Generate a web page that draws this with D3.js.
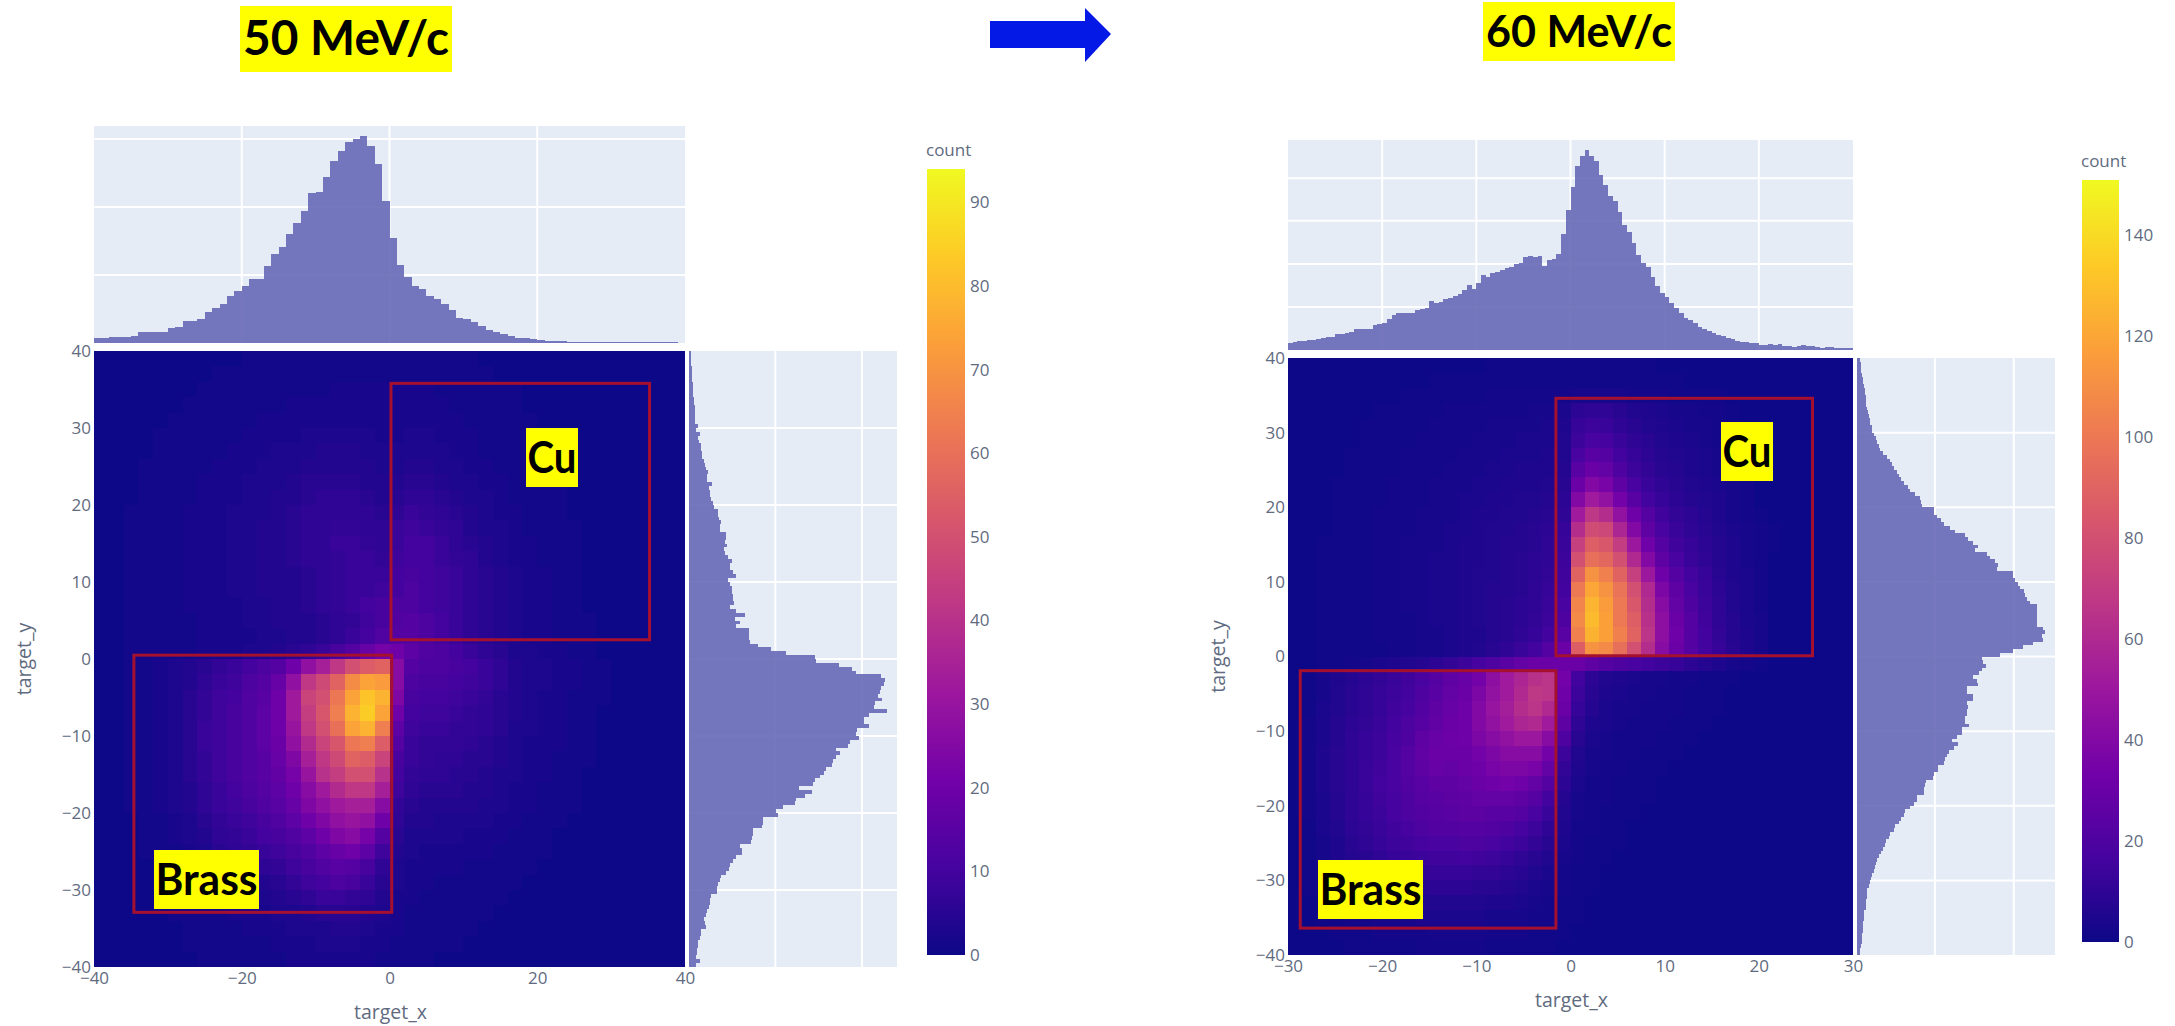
<!DOCTYPE html>
<html>
<head>
<meta charset="utf-8">
<script src="https://cdn.jsdelivr.net/npm/d3@7"></script>
<style>
  body { margin: 0; background: #fff; }
  text { font-family: "Open Sans", sans-serif; fill: #5f6b80; }
  .note { font-family: Lato, sans-serif; font-weight: 700; fill: #000; }
  .axis text { font-size: 17px; }
  .axis .domain { display: none; }
  .axis line { display: none; }
</style>
</head>
<body>
<div id="chart"></div>
<script>
// marginal histograms, 50 MeV/c (x: 1 unit bins from -40, y: 0.5 unit bins from +40 going down)
var histX50 = [34,34,44,44,44,54,81,81,81,81,108,120,164,164,174,230,257,287,343,382,419,473,473,566,652,708,801,884,973,1103,1112,1223,1338,1411,1477,1497,1519,1446,1318,1046,774,576,485,419,397,343,326,287,240,184,174,157,123,93,81,69,54,34,34,29,25,17,17,17,10,7,5,5,5,5,5,5,5,5,5,5,5,5,5,0];
var histY50 = [5,5,6,7,8,9,10,10,11,11,12,12,15,16,17,18,17,17,19,27,22,34,27,30,35,37,38,40,46,47,50,57,54,55,69,60,62,64,66,72,76,88,88,90,96,94,94,111,111,109,114,104,108,118,129,122,124,132,142,117,124,130,130,132,133,134,124,142,169,137,154,140,180,179,179,184,207,245,290,377,382,450,490,502,575,589,584,577,572,568,580,557,554,593,539,526,524,539,504,502,509,482,477,440,452,442,432,430,412,404,392,377,372,329,370,349,322,317,282,262,268,222,222,219,192,192,190,187,152,160,160,142,132,122,120,112,97,94,88,84,84,67,64,62,59,54,52,44,47,50,37,37,32,27,27,24,24,22,32,22];

// marginal histograms, 60 MeV/c (x: 0.5 unit bins from -30, y: 0.5 unit bins from +40 going down)
var histX60 = [22,24,26,28,29,30,32,36,38,40,48,48,50,55,62,62,63,64,76,78,82,92,104,110,111,111,112,121,122,126,147,140,145,154,156,163,168,180,196,184,200,225,218,232,235,240,245,250,258,260,278,282,278,281,252,270,274,288,348,420,488,552,582,600,582,568,526,495,462,448,414,374,355,322,285,262,250,220,192,170,158,142,126,112,95,90,82,68,64,58,52,45,43,37,32,27,24,24,22,20,16,14,17,14,17,13,12,10,13,14,12,11,10,7,10,8,7,7,7,7];
var histY60 = [10,11,12,13,15,17,19,21,23,25,26,27,28,30,32,35,38,40,44,46,50,58,60,65,70,78,90,98,105,110,120,125,132,140,152,160,175,190,192,195,230,232,240,252,260,280,295,325,335,350,365,355,392,400,415,425,420,470,470,475,485,490,502,506,512,520,542,542,542,542,540,540,558,565,555,560,528,500,470,430,375,380,388,375,368,350,360,365,332,332,350,348,330,335,332,330,325,325,338,315,315,300,285,305,290,277,270,265,260,242,243,230,227,208,205,202,200,180,180,170,160,145,140,132,125,115,110,100,95,88,83,77,72,65,60,58,54,52,46,42,40,35,30,30,29,28,28,28,22,20,20,19,18,18,16,15,14,13,10,10];

// heatmap counts, rows from y=+40 downward. short rows end in zeros
var heat50 = [
[0,0,0,0,0,0,0,0,0,0,1,1,1,1,1,1,1,1,1,1,1,1,1,1,1,1],
[0,0,0,0,0,0,0,0,1,1,1,1,1,1,1,1,1,1,1,1,1,1,1,1,1,1,1],
[0,0,0,0,0,0,0,1,1,1,1,1,1,1,1,1,2,2,2,2,2,2,2,1,1,1,1,1,1],
[0,0,0,0,0,0,1,1,1,1,1,1,1,2,2,2,2,2,2,2,2,2,2,2,1,1,1,1,1],
[0,0,0,0,0,1,1,1,1,1,1,2,2,2,2,2,2,2,2,2,2,2,2,2,2,1,1,1,1,1],
[0,0,0,0,1,1,1,1,1,1,2,2,2,2,3,3,3,3,3,2,2,3,3,2,2,2,1,1,1,1,1],
[0,0,0,0,1,1,1,1,1,2,2,2,3,3,3,4,4,4,3,3,3,3,3,3,2,2,1,1,1,1,1],
[0,0,0,1,1,1,1,1,2,2,2,3,3,3,4,4,4,4,4,3,3,4,4,3,3,2,2,1,1,1,1,1],
[0,0,0,1,1,1,1,2,2,2,3,3,3,4,5,5,5,5,4,4,4,5,5,4,3,3,2,2,1,1,1,1],
[0,0,0,1,1,1,1,2,2,2,3,3,4,4,5,6,6,6,5,4,5,6,6,5,4,3,3,2,1,1,1,1],
[0,0,1,1,1,1,2,2,2,3,3,3,4,5,6,6,6,6,6,5,6,8,7,6,5,4,3,2,2,1,1,1],
[0,0,1,1,1,1,2,2,2,3,3,4,4,5,6,6,7,7,6,6,8,9,8,7,6,4,3,3,2,1,1,1,1],
[0,0,1,1,1,1,2,2,2,3,3,4,4,5,6,6,8,8,7,6,8,10,10,8,6,5,4,3,2,2,1,1,1],
[0,0,1,1,1,1,2,2,2,3,3,4,4,5,6,6,7,8,8,7,9,10,10,8,7,6,4,3,2,2,1,1,1],
[0,0,1,1,1,1,2,2,2,3,3,4,4,4,5,6,7,8,8,8,10,11,10,9,8,6,5,4,3,2,2,1,1],
[0,0,1,1,1,1,2,2,2,3,3,4,4,4,5,6,7,8,8,9,10,12,10,9,8,6,5,4,3,2,2,1,1],
[0,0,1,1,1,1,2,2,2,2,3,3,4,4,5,6,7,8,10,11,12,12,10,9,8,6,5,4,3,2,2,1,1],
[0,0,1,1,1,1,1,2,2,2,3,3,4,4,4,5,6,7,9,11,13,14,12,10,8,6,5,4,3,2,2,1,1,1],
[0,0,1,1,1,1,1,2,2,2,2,3,3,4,4,5,6,8,10,13,14,14,12,10,8,6,5,4,3,2,2,1,1,1],
[0,0,1,1,1,1,1,2,2,2,3,3,4,5,6,8,11,14,18,22,20,16,13,12,10,8,6,5,3,3,2,2,1,1],
[0,0,1,1,2,3,4,5,7,8,10,12,14,20,28,34,42,50,54,56,26,14,12,12,11,10,8,6,4,3,3,2,2,1,1],
[0,0,1,1,2,3,4,6,8,9,12,14,18,28,42,48,56,68,74,72,26,12,11,11,10,9,8,6,4,3,3,2,2,1,1],
[0,0,1,1,2,3,5,7,9,10,13,15,20,32,46,50,62,74,82,78,24,11,10,10,9,8,7,5,4,3,2,2,1,1,1],
[0,0,1,1,2,3,5,7,9,11,13,16,20,32,44,52,64,78,84,74,20,10,9,9,8,7,6,5,4,3,2,2,1,1],
[0,0,1,1,2,3,5,8,9,11,13,16,20,30,42,50,60,74,78,64,16,9,8,8,7,7,6,5,3,3,2,2,1,1],
[0,0,1,1,2,3,5,8,9,11,13,16,19,28,38,46,52,62,64,54,14,8,7,7,7,6,5,4,3,2,2,2,1,1],
[0,0,1,1,2,3,5,7,9,11,13,15,18,24,34,42,48,56,54,46,11,8,7,6,6,5,5,4,3,2,2,1,1,1],
[0,0,1,1,2,3,5,7,9,11,13,15,17,22,30,40,44,50,50,40,10,7,6,6,5,5,4,3,3,2,2,1,1],
[0,0,1,1,2,3,4,6,8,10,12,14,16,20,26,32,38,42,42,34,9,6,5,5,5,4,4,3,2,2,1,1,1],
[0,0,1,1,2,3,4,6,8,9,11,13,15,18,24,28,32,34,34,26,7,5,4,4,4,4,3,3,2,2,1,1,1],
[0,0,0,1,1,2,3,5,7,8,9,11,13,16,20,24,28,30,28,20,6,4,4,3,3,3,3,2,2,1,1,1],
[0,0,0,1,1,2,3,4,6,7,8,10,11,13,16,20,24,26,22,14,5,3,3,3,3,2,2,2,1,1,1],
[0,0,0,1,1,1,2,3,5,6,7,8,9,11,13,16,18,20,16,9,4,3,2,2,2,2,2,1,1,1,1],
[0,0,0,0,1,1,1,2,3,4,5,6,7,9,11,13,15,14,11,6,3,2,2,2,2,1,1,1,1,1],
[0,0,0,0,1,1,1,2,2,3,3,4,5,7,9,10,12,11,8,5,3,2,2,1,1,1,1,1,1],
[0,0,0,0,0,1,1,1,2,2,3,3,4,5,6,8,8,7,6,4,2,2,1,1,1,1,1,1],
[0,0,0,0,0,1,1,1,1,2,2,2,3,3,4,5,5,5,4,3,2,1,1,1,1,1,1],
[0,0,0,0,0,0,1,1,1,1,2,2,2,3,3,3,4,4,3,2,2,1,1,1,1,1],
[0,0,0,0,0,0,1,1,1,1,1,1,2,2,2,3,3,3,2,2,1,1,1,1,1],
[0,0,0,0,0,0,0,1,1,1,1,1,1,2,2,2,2,2,2,1,1,1,1]
];

var heat60 = [
[0,0,0,0,0,0,0,0,0,0,0,0,0,0,1,1,1,1,1,1,1,1,1,1,1,1],
[0,0,0,0,0,0,0,0,0,0,1,1,1,1,1,1,1,1,1,1,1,1,1,1,1,1,1,1],
[0,0,0,0,0,0,0,0,1,1,1,1,1,1,2,2,2,2,2,2,3,3,3,3,2,2,2,1,1,1,1],
[0,0,0,0,0,0,1,1,1,1,1,2,2,2,2,2,2,3,3,4,9,10,10,8,6,5,4,3,3,2,2,1],
[0,0,0,0,0,1,1,1,1,1,2,2,2,2,3,3,3,3,4,5,12,14,13,10,8,6,5,4,3,3,2,1],
[0,0,0,0,0,1,1,1,1,2,2,2,2,3,3,3,4,4,4,6,14,18,17,13,10,8,6,5,4,3,2,1],
[0,0,0,0,1,1,1,1,2,2,2,2,3,3,3,4,4,4,5,6,18,24,22,16,12,9,7,6,5,4,3,2,1],
[0,0,0,0,1,1,1,1,2,2,2,3,3,3,4,4,5,5,5,7,24,30,28,20,14,11,8,7,5,4,3,2,1],
[0,0,0,1,1,1,1,2,2,2,3,3,3,4,4,5,5,5,6,8,30,40,36,26,18,13,10,8,6,5,4,3,2],
[0,0,0,1,1,1,1,2,2,2,3,3,4,4,5,5,6,6,7,9,40,52,46,34,24,16,12,9,7,6,5,3,2],
[0,0,0,1,1,1,2,2,2,3,3,3,4,5,5,6,6,7,8,10,52,68,62,46,32,22,15,11,9,7,5,3,2,1],
[0,0,0,1,1,1,2,2,2,3,3,4,4,5,6,6,7,8,9,12,62,78,76,58,40,26,18,13,10,8,6,4,3,2,1],
[0,0,1,1,1,1,2,2,3,3,3,4,5,5,6,7,7,8,10,13,72,88,84,70,50,32,22,15,12,9,7,5,3,2,1],
[0,0,1,1,1,1,2,2,3,3,4,4,5,5,6,7,8,9,10,14,80,96,92,80,60,40,26,18,13,10,7,5,3,2],
[0,0,1,1,1,1,2,2,3,3,4,4,5,6,6,7,8,9,11,15,90,112,104,90,72,50,32,22,16,12,8,5,4,2],
[0,0,1,1,1,1,2,2,3,3,4,4,5,6,7,7,8,10,12,16,100,120,112,98,80,60,38,26,18,13,9,6,4,2],
[0,0,1,1,1,1,2,2,3,3,4,4,5,6,7,8,9,10,13,18,106,126,116,100,84,62,42,28,20,14,10,6,4,2],
[0,0,1,1,1,1,2,2,2,3,4,4,5,6,7,8,9,11,14,20,108,128,118,100,88,64,44,30,22,15,10,7,4,3],
[0,0,1,1,1,1,2,2,2,3,3,4,5,5,7,8,10,12,16,24,104,125,118,104,90,66,44,32,22,16,11,7,5,3],
[0,0,1,1,1,1,1,2,2,3,3,4,5,6,8,10,13,16,22,30,88,112,108,96,80,62,42,30,22,16,12,8,5,3],
[0,0,1,1,2,3,4,5,6,7,9,11,14,17,20,24,28,30,30,30,30,26,22,20,18,16,14,12,9,7,5,3,2,1],
[0,1,3,5,7,9,11,13,15,18,22,26,29,34,44,52,58,64,66,34,16,9,6,5,4,3,3,2,2,1,1,1],
[0,1,3,6,8,10,12,14,16,20,24,28,30,38,46,52,60,68,66,32,14,8,5,4,3,3,2,2,1,1,1],
[0,1,4,6,8,10,12,15,17,21,26,29,32,40,48,54,62,66,60,30,12,7,4,3,3,2,2,2,1,1,1],
[0,2,4,7,9,11,13,16,19,23,27,30,32,40,46,52,58,60,52,26,10,5,4,3,2,2,2,1,1,1],
[0,2,4,7,10,12,14,17,20,26,29,31,32,38,42,46,50,50,42,20,8,4,3,2,2,2,1,1,1],
[0,2,5,8,10,12,14,18,22,27,30,30,30,34,38,42,42,42,34,14,6,3,3,2,2,1,1,1],
[0,2,5,8,10,13,15,18,22,26,29,28,30,32,36,38,38,36,28,11,5,3,2,2,1,1,1],
[0,2,5,8,10,13,16,18,21,24,26,26,28,30,32,34,32,28,22,9,4,2,2,1,1,1],
[0,2,4,7,10,12,15,17,20,23,24,25,26,28,28,28,26,23,16,7,3,2,2,1,1,1],
[0,2,4,7,10,12,14,17,19,21,23,24,25,25,24,24,22,18,13,6,3,2,1,1,1],
[0,1,4,6,9,11,13,15,17,19,21,21,22,22,21,20,17,14,10,5,2,2,1,1],
[0,1,3,5,8,10,12,14,15,17,18,18,19,19,18,16,14,11,8,4,2,1,1,1],
[0,1,3,5,7,8,10,12,13,14,15,15,16,15,14,12,10,8,6,3,2,1,1],
[0,1,2,4,5,7,8,9,10,11,12,12,12,11,11,9,8,6,4,2,1,1],
[0,1,2,3,4,5,6,7,7,8,9,9,9,8,8,7,6,4,3,2,1,1],
[0,0,1,2,3,3,4,5,5,6,6,6,6,6,5,5,4,3,2,1,1],
[0,0,1,1,2,2,3,3,3,4,4,4,4,4,3,3,3,2,2,1,1],
[0,0,0,1,1,1,2,2,2,2,3,3,3,3,2,2,2,1,1,1],
[0,0,0,0,1,1,1,1,1,2,2,2,2,2,1,1,1,1,1]
];

// target boxes [xMin, xMax, yMin, yMax]
var cuBox50 = [0.2, 35.2, 2.5, 35.8], brassBox50 = [-34.6, 0.3, -32.9, 0.5];
var cuBox60 = [-1.55, 25.7, 0.1, 34.6], brassBox60 = [-28.7, -1.55, -36.4, -1.9];

var xTicks50 = [-40,-20,0,20,40], xTicks60 = [-30,-20,-10,0,10,20,30];
var yTicks = [-40,-30,-20,-10,0,10,20,30,40];
var barTicks50 = [0,10,20,30,40,50,60,70,80,90], barTicks60 = [0,20,40,60,80,100,120,140];
var histXGrid50 = [500,1000,1500], histXGrid60 = [129,258,388,515];
var histYGrid50 = [259,519], histYGrid60 = [234,471];

// plotly plasma
var plasma = ["#0d0887","#46039f","#7201a8","#9c179e","#bd3786","#d8576b","#ed7953","#fb9f3a","#fdca26","#f0f921"];
var gridColor = "#fff", plotBg = "#e5ecf6", barColor = "#6a6bb7", boxColor = "#a5102f";

var svg = d3.select("#chart").append("svg")
    .attr("width", 2175)
    .attr("height", 1026)
    .style("display", "block");

var defs = svg.append("defs");

function drawPanel(p) {
  var g = svg.append("g");
  var x = d3.scaleLinear().domain(p.xDomain).range([p.left, p.right]);
  var y = d3.scaleLinear().domain([-40, 40]).range([p.bottom, p.top]);
  var color = d3.scaleLinear()
    .domain(plasma.map(function(c, i) { return i / (plasma.length - 1) * p.zMax; }))
    .range(plasma);

  // base of the heatmap, for the cells that are 0
  g.append("rect")
    .attr("x", p.left).attr("y", p.top)
    .attr("width", p.right - p.left).attr("height", p.bottom - p.top)
    .attr("fill", color(0));

  var cellW = (p.xDomain[1] - p.xDomain[0]) / 40;
  p.heat.forEach(function(row, r) {
    var yTop = 40 - r * 2;
    g.append("g").attr("shape-rendering", "crispEdges")
      .selectAll("rect")
      .data(row)
      .enter().append("rect")
      .attr("x", function(d, c) { return x(p.xDomain[0] + c * cellW); })
      .attr("width", function(d, c) { return x(p.xDomain[0] + (c + 1) * cellW) - x(p.xDomain[0] + c * cellW); })
      .attr("y", y(yTop))
      .attr("height", y(yTop - 2) - y(yTop))
      .attr("fill", function(d) { return color(d); });
  });

  // top histogram
  var topY = d3.scaleLinear().domain([0, p.histXMax]).range([p.histTopBottom, p.histTopTop]);
  g.append("rect")
    .attr("x", p.left).attr("y", p.histTopTop)
    .attr("width", p.right - p.left).attr("height", p.histTopBottom - p.histTopTop)
    .attr("fill", plotBg);
  g.selectAll(".vgrid").data(p.xGridVals).enter().append("line")
    .attr("x1", function(d) { return x(d); }).attr("x2", function(d) { return x(d); })
    .attr("y1", p.histTopTop).attr("y2", p.histTopBottom)
    .attr("stroke", gridColor).attr("stroke-width", 2);
  g.selectAll(".hgrid").data(p.histXGrid).enter().append("line")
    .attr("x1", p.left).attr("x2", p.right)
    .attr("y1", function(d) { return topY(d); }).attr("y2", function(d) { return topY(d); })
    .attr("stroke", gridColor).attr("stroke-width", 2);
  var binX = (p.xDomain[1] - p.xDomain[0]) / p.histX.length;
  g.append("g").attr("shape-rendering", "crispEdges")
    .selectAll("rect").data(p.histX).enter().append("rect")
    .attr("x", function(d, i) { return x(p.xDomain[0] + i * binX); })
    .attr("width", function(d, i) { return x(p.xDomain[0] + (i + 1) * binX) - x(p.xDomain[0] + i * binX); })
    .attr("y", function(d) { return topY(d); })
    .attr("height", function(d) { return p.histTopBottom - topY(d); })
    .attr("fill", barColor).attr("opacity", 0.92);

  // side histogram
  var sideX = d3.scaleLinear().domain([0, p.histYMax]).range([p.sideLeft, p.sideRight]);
  g.append("rect")
    .attr("x", p.sideLeft).attr("y", p.top)
    .attr("width", p.sideRight - p.sideLeft).attr("height", p.bottom - p.top)
    .attr("fill", plotBg);
  g.selectAll(".shgrid").data(yTicks.slice(1, -1)).enter().append("line")
    .attr("x1", p.sideLeft).attr("x2", p.sideRight)
    .attr("y1", function(d) { return y(d); }).attr("y2", function(d) { return y(d); })
    .attr("stroke", gridColor).attr("stroke-width", 2);
  g.selectAll(".svgrid").data(p.histYGrid).enter().append("line")
    .attr("x1", function(d) { return sideX(d); }).attr("x2", function(d) { return sideX(d); })
    .attr("y1", p.top).attr("y2", p.bottom)
    .attr("stroke", gridColor).attr("stroke-width", 2);
  g.append("g").attr("shape-rendering", "crispEdges")
    .selectAll("rect").data(p.histY).enter().append("rect")
    .attr("x", p.sideLeft)
    .attr("width", function(d) { return sideX(d) - p.sideLeft; })
    .attr("y", function(d, i) { return y(40 - i * 0.5); })
    .attr("height", function(d, i) { return y(40 - (i + 1) * 0.5) - y(40 - i * 0.5); })
    .attr("fill", barColor).attr("opacity", 0.92);

  // axes
  g.append("g").attr("class", "axis")
    .attr("transform", "translate(0," + p.bottom + ")")
    .call(d3.axisBottom(x).tickValues(p.xTicks).tickSize(0).tickPadding(5));
  g.append("g").attr("class", "axis")
    .attr("transform", "translate(" + p.left + ",0)")
    .call(d3.axisLeft(y).tickValues(yTicks).tickSize(0).tickPadding(3));

  g.append("text")
    .attr("x", (p.left + p.right) / 2 + 1)
    .attr("y", p.bottom + 52)
    .attr("text-anchor", "middle")
    .style("font-size", "19.5px")
    .text("target_x");
  g.append("text")
    .attr("transform", "translate(" + (p.left - 63) + "," + y(0) + ") rotate(-90)")
    .attr("text-anchor", "middle")
    .style("font-size", "19.5px")
    .text("target_y");

  // target boxes
  [p.cuBox, p.brassBox].forEach(function(b) {
    g.append("rect")
      .attr("x", x(b[0])).attr("y", y(b[3]))
      .attr("width", x(b[1]) - x(b[0])).attr("height", y(b[2]) - y(b[3]))
      .attr("fill", "none")
      .attr("stroke", boxColor)
      .attr("stroke-width", 3);
  });

  // colorbar
  var gradId = "plasma" + p.zMax;
  var grad = defs.append("linearGradient").attr("id", gradId)
    .attr("x1", 0).attr("x2", 0).attr("y1", 1).attr("y2", 0);
  plasma.forEach(function(c, i) {
    grad.append("stop").attr("offset", i / (plasma.length - 1)).attr("stop-color", c);
  });
  var barY = d3.scaleLinear().domain([0, p.zMax]).range([p.barBottom, p.barTop]);
  g.append("rect")
    .attr("x", p.barLeft).attr("y", p.barTop)
    .attr("width", p.barRight - p.barLeft).attr("height", p.barBottom - p.barTop)
    .attr("fill", "url(#" + gradId + ")");
  g.append("g").attr("class", "axis")
    .attr("transform", "translate(" + p.barRight + ",0)")
    .call(d3.axisRight(barY).tickValues(p.barTicks).tickSize(0).tickPadding(5));
  g.append("text")
    .attr("x", p.barLeft - 1)
    .attr("y", p.barTop - 13)
    .style("font-size", "17px")
    .text("count");
}

function yellowLabel(x0, y0, w, h, str, size, textW, dy) {
  svg.append("rect").attr("x", x0).attr("y", y0).attr("width", w).attr("height", h).attr("fill", "#ffff00");
  svg.append("text")
    .attr("class", "note")
    .attr("x", x0 + w / 2)
    .attr("y", y0 + h / 2 + dy)
    .attr("text-anchor", "middle")
    .attr("textLength", textW)
    .attr("lengthAdjust", "spacingAndGlyphs")
    .style("font-size", size + "px")
    .style("fill", "#000")
    .text(str);
}

drawPanel({
  xDomain: [-40, 40], left: 94, right: 685, top: 351, bottom: 967,
  heat: heat50, zMax: 94, cuBox: cuBox50, brassBox: brassBox50,
  xTicks: xTicks50, xGridVals: [-20, 0, 20], barTicks: barTicks50,
  histX: histX50, histXMax: 1595, histXGrid: histXGrid50, histTopTop: 126, histTopBottom: 343,
  histY: histY50, histYMax: 624, histYGrid: histYGrid50, sideLeft: 689, sideRight: 897,
  barLeft: 927, barRight: 965, barTop: 169, barBottom: 955
});
drawPanel({
  xDomain: [-30, 30], left: 1288, right: 1853, top: 358, bottom: 955,
  heat: heat60, zMax: 151, cuBox: cuBox60, brassBox: brassBox60,
  xTicks: xTicks60, xGridVals: [-20, -10, 0, 10, 20], barTicks: barTicks60,
  histX: histX60, histXMax: 630, histXGrid: histXGrid60, histTopTop: 140, histTopBottom: 350,
  histY: histY60, histYMax: 595, histYGrid: histYGrid60, sideLeft: 1857, sideRight: 2055,
  barLeft: 2082, barRight: 2119, barTop: 180, barBottom: 942
});

yellowLabel(240, 6, 212, 66, "50 MeV/c", 47, 206, 16);
yellowLabel(1483, 2, 192, 59, "60 MeV/c", 43, 186, 15);
yellowLabel(526, 428, 52, 59, "Cu", 44, 49, 15);
yellowLabel(154, 850, 105, 59, "Brass", 44, 102, 15);
yellowLabel(1721, 422, 52, 59, "Cu", 44, 49, 15);
yellowLabel(1318, 860, 105, 59, "Brass", 44, 102, 15);

// arrow between the two panels
var arrowPts = [[990,21],[1085,21],[1085,8],[1111,34],[1085,62],[1085,48],[990,48]];
svg.append("path")
  .attr("d", d3.line()(arrowPts) + "Z")
  .attr("fill", "#0519e6");
</script>
</body>
</html>
